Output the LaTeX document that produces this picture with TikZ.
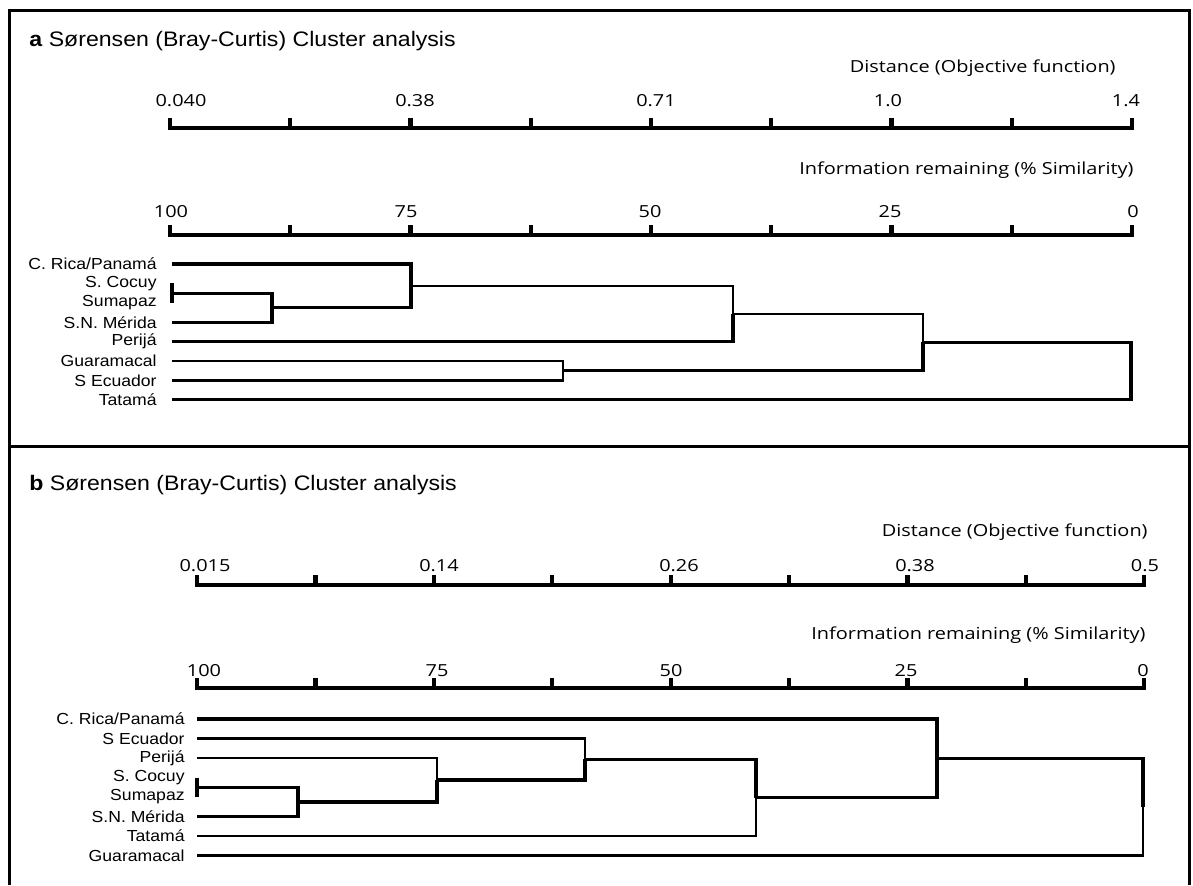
\documentclass[tikz,border=0pt]{standalone}
\usepackage{fontspec}
\setmainfont{Liberation Sans}[FakeStretch=1.1]
\newfontfamily\axisfont{Open Sans}[FakeStretch=1.2]
\usetikzlibrary{positioning}

\begin{document}
\begin{tikzpicture}[x=0.5pt, y=-0.5pt, line join=miter]
	\tikzstyle{leaf}=[anchor=east, inner sep=0pt, font=\fontsize{8}{9}\selectfont]
	\tikzstyle{ttl}=[anchor=west, inner sep=0pt, font=\fontsize{10.5}{12}\selectfont]
	\tikzstyle{axlab}=[inner sep=0pt, font=\axisfont\fontsize{8.3}{10}\selectfont]
	\tikzstyle{axline}=[line width=2.1pt]
	\tikzstyle{thk}=[line width=1.6pt]
	\tikzstyle{thn}=[line width=1.1pt]
	\tikzstyle{frame}=[line width=1.5pt]
	\useasboundingbox (0,0) rectangle (1193,885);
	\draw[frame] (9,885) -- (9,10) -- (1189,10) -- (1189,885);
	\draw[frame] (9,446) -- (1189,446);

	% panel a
	\node[ttl] (ta) at (29,41) {\textbf{a} Sørensen (Bray-Curtis) Cluster analysis};
	\node[axlab, anchor=base east] (adist) at (1116,72) {Distance (Objective function)};
	\node[axlab, anchor=base east] (ainfo) at (1134,174) {Information remaining (\% Similarity)};
	\draw[axline] (170,118) -- (170,128) -- (1132,128) -- (1132,118);
	\draw[axline] (170,225) -- (170,235) -- (1132,235) -- (1132,225);
	\foreach \i in {1,...,7} {
		\draw[axline] ({170+120.25*\i},128) -- ++(0,-10);
		\draw[axline] ({170+120.25*\i},235) -- ++(0,-10);
	}
	\foreach \x/\t [count=\k] in {181/0.040,415/0.38,656/0.71,888/1.0,1126/1.4}
		\node[axlab, anchor=base] (ad\k) at (\x,106) {\t};
	\foreach \x/\t [count=\k] in {171/100,406/75,650/50,890/25,1133/0}
		\node[axlab, anchor=base] (as\k) at (\x,217) {\t};
	\foreach \n/\t [count=\k] in {CR/{C. Rica/Panamá},SC/{S. Cocuy},SU/Sumapaz,SN/{S.N. Mérida},
		Pe/Perijá,Gu/Guaramacal,SE/{S Ecuador},Ta/Tatamá} {
		\node[leaf] (a\n) at (157,{264+19.4*(\k-1)}) {\t};
		\coordinate (a\n0) at (172,{264+19.4*(\k-1)});
	}
	\coordinate (aJ1) at (172,293.1);
	\coordinate (aJ2) at (272,307.6);
	\coordinate (aJ3) at (411,285.8);
	\coordinate (aJ4) at (733,313.7);
	\coordinate (aJ5) at (563,370.7);
	\coordinate (aJ6) at (923,342.2);
	\coordinate (aJ7) at (1131,371);
	\draw[thk] (aSC0) -- (aSU0);
	\draw[thk] (aJ1) -| (aJ2) |- (aSN0);
	\draw[thk] (aCR0) -| (aJ3) |- (aJ2);
	\draw[thn] (aJ3) -| (aJ4);
	\draw[thk] (aJ4) |- (aPe0);
	\draw[thn] (aGu0) -| (aJ5) |- (aSE0);
	\draw[thn] (aJ4) -| (aJ6);
	\draw[thk] (aJ6) |- (aJ5);
	\draw[thk] (aJ6) -| (aJ7) |- (aTa0);

	% panel b
	\node[ttl] (tb) at (29,485) {\textbf{b} Sørensen (Bray-Curtis) Cluster analysis};
	\node[axlab, anchor=base east] (bdist) at (1148,536) {Distance (Objective function)};
	\node[axlab, anchor=base east] (binfo) at (1146,639) {Information remaining (\% Similarity)};
	\draw[axline] (197,575) -- (197,585) -- (1144.2,585) -- (1144.2,575);
	\draw[axline] (197,678) -- (197,688) -- (1144.2,688) -- (1144.2,678);
	\foreach \i in {1,...,7} {
		\draw[axline] ({197+118.4*\i},585) -- ++(0,-10);
		\draw[axline] ({197+118.4*\i},688) -- ++(0,-10);
	}
	\foreach \x/\t [count=\k] in {205/0.015,439/0.14,679/0.26,915/0.38,1145/0.5}
		\node[axlab, anchor=base] (bd\k) at (\x,571) {\t};
	\foreach \x/\t [count=\k] in {204/100,437/75,671/50,906/25,1143/0}
		\node[axlab, anchor=base] (bs\k) at (\x,676) {\t};
	\foreach \n/\t [count=\k] in {CR/{C. Rica/Panamá},SE/{S Ecuador},Pe/Perijá,SC/{S. Cocuy},
		SU/Sumapaz,SN/{S.N. Mérida},Ta/Tatamá,Gu/Guaramacal} {
		\node[leaf] (b\n) at (185,{719+19.5*(\k-1)}) {\t};
		\coordinate (b\n0) at (197,{719+19.5*(\k-1)});
	}
	\coordinate (bJ1) at (197,787.25);
	\coordinate (bJ2) at (298,801.9);
	\coordinate (bJ3) at (437,779.9);
	\coordinate (bJ4) at (585,759.2);
	\coordinate (bJ5) at (756,797.6);
	\coordinate (bJ6) at (937,758.3);
	\coordinate (bJ7) at (1143,806.9);
	\draw[thk] (bSC0) -- (bSU0);
	\draw[thk] (bJ1) -| (bJ2) |- (bSN0);
	\draw[thn] (bPe0) -| (bJ3);
	\draw[thk] (bJ3) |- (bJ2);
	\draw[thn] (bSE0) -| (bJ4);
	\draw[thk] (bJ4) |- (bJ3);
	\draw[thk] (bJ4) -| (bJ5);
	\draw[thn] (bJ5) |- (bTa0);
	\draw[thk] (bCR0) -| (bJ6) |- (bJ5);
	\draw[thk] (bJ6) -| (bJ7);
	\draw[thn] (bJ7) |- (bGu0);
\end{tikzpicture}
\end{document}
